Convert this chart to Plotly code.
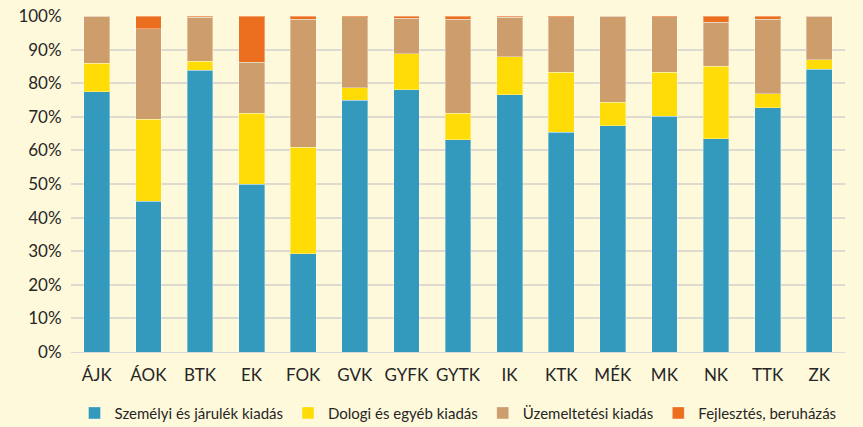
import plotly.graph_objects as go

categories = ["ÁJK", "ÁOK", "BTK", "EK", "FOK", "GVK", "GYFK", "GYTK", "IK", "KTK", "MÉK", "MK", "NK", "TTK", "ZK"]
szemelyi = [77.5, 44.9, 83.9, 50.0, 29.2, 75.0, 78.0, 63.1, 76.5, 65.4, 67.3, 70.2, 63.5, 72.7, 84.1]
dologi = [8.4, 24.4, 2.6, 21.0, 31.7, 3.7, 10.7, 7.9, 11.4, 17.8, 7.1, 13.0, 21.5, 4.1, 2.9]
uzemeltetesi = [14.1, 26.9, 13.1, 15.3, 38.1, 21.1, 10.6, 28.0, 11.7, 16.6, 25.5, 16.6, 13.1, 22.2, 12.9]
fejlesztes = [0.0, 3.8, 0.4, 13.7, 1.0, 0.2, 0.7, 1.0, 0.4, 0.2, 0.1, 0.2, 1.9, 1.0, 0.1]

series_names = ["Személyi és járulék kiadás", "Dologi és egyéb kiadás", "Üzemeltetési kiadás", "Fejlesztés, beruházás"]
series_values = [szemelyi, dologi, uzemeltetesi, fejlesztes]
colors = ["#3399BD", "#FFDC05", "#CD9E6B", "#EC6F1F"]

BG = "#FFF9DB"

fig = go.Figure()
for name, vals, col in zip(series_names, series_values, colors):
    fig.add_trace(go.Bar(
        x=categories, y=vals, name=name,
        marker=dict(color=col, line=dict(color="rgba(255,255,255,0.35)", width=1)),
    ))

font_family = "Lato, sans-serif"
fig.update_layout(
    barmode="stack",
    bargap=0.5,
    width=863, height=427,
    paper_bgcolor=BG,
    plot_bgcolor=BG,
    margin=dict(l=71, r=18, t=16, b=75, autoexpand=False),
    font=dict(family=font_family, size=17, color="#262626"),
    xaxis=dict(showgrid=False, showline=True, linecolor="#D9D9D9", linewidth=1,
               ticks="outside", ticklen=8, tickcolor="rgba(0,0,0,0)", automargin=False,
               tickfont=dict(size=17, color="#262626")),
    yaxis=dict(range=[0, 100], dtick=10, ticksuffix="%", showgrid=True,
               gridcolor="#DDDAD0", gridwidth=1.5, zeroline=False, automargin=False,
               ticks="outside", ticklen=5, tickcolor="rgba(0,0,0,0)",
               tickfont=dict(size=17, color="#262626")),
    legend=dict(orientation="h", x=0.5, xanchor="center",
                y=-0.182, yanchor="middle",
                font=dict(size=15, color="#262626"), itemwidth=30, traceorder="normal",
                bgcolor="rgba(0,0,0,0)"),
    showlegend=True,
)

fig.write_html(
    "out.html",
    config={"displayModeBar": False},
    post_script="document.body.style.margin='0';document.body.style.background='%s';" % BG,
)
